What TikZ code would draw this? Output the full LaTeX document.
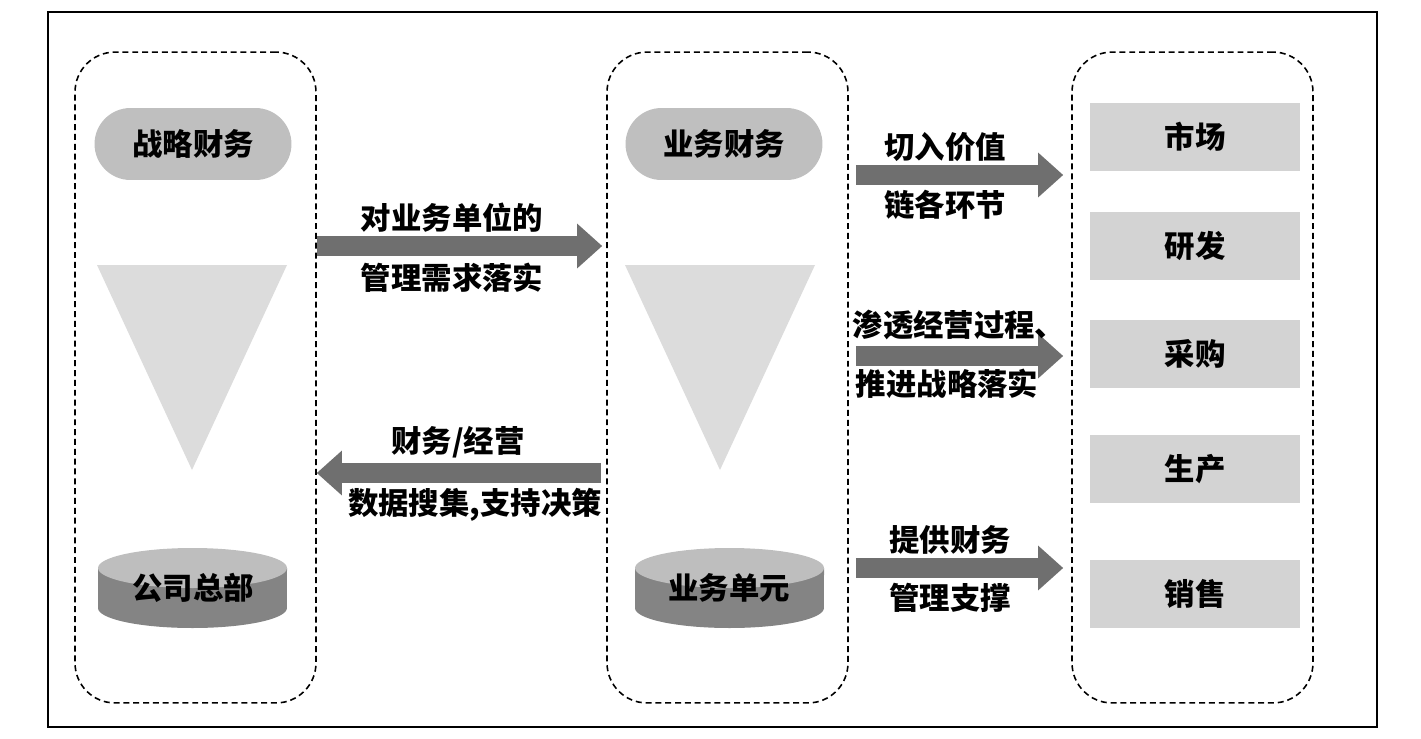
\documentclass[tikz,border=0pt]{standalone}
\usepackage{fontspec}
\newfontfamily\cjk{Noto Sans CJK SC}
\usepackage{tikz}
\usetikzlibrary{arrows.meta, calc}

\definecolor{pillgray}{HTML}{BFBFBF}
\definecolor{trigray}{HTML}{DCDCDC}
\definecolor{cyltop}{HTML}{BEBEBE}
\definecolor{cylside}{HTML}{848484}
\definecolor{arrowgray}{HTML}{6F6F6F}
\definecolor{unitgray}{HTML}{D3D3D3}

\begin{document}
\begin{tikzpicture}[x=0.02cm, y=-0.02cm,
  every node/.style={font=\cjk\bfseries\fontsize{17.3}{19}\selectfont, inner sep=0pt},
  dashbox/.style={draw, line width=0.9pt, dash pattern=on 3.4pt off 2.2pt, rounded corners=0.8cm, minimum width=4.82cm, minimum height=13.02cm},
  pill/.style={fill=pillgray, rounded corners=0.72cm, minimum width=3.94cm, minimum height=1.44cm},
  unitbox/.style={fill=unitgray, minimum width=4.2cm, minimum height=1.36cm},
  bigarrow/.style={draw=arrowgray, line width=0.4cm, -{Triangle[length=0.5cm, width=0.86cm]}},
  lbl/.style={fill=white, inner sep=1pt}]

\useasboundingbox (0,0) rectangle (1421,738);
\draw[line width=1pt] (48,12) rectangle (1377,727);

\node[dashbox] (hqbox) at (195.5,377.5) {};
\node[dashbox] (bubox) at (727.5,377.5) {};
\node[dashbox] (unitsbox) at (1192.5,377.5) {};

\node[pill] (stratfin) at (193,144) {战略财务};
\node[pill] (busfin) at (724,144) {业务财务};

\fill[trigray] (97,265) -- (287,265) -- (192,470) -- cycle;
\fill[trigray] (625,265) -- (815,265) -- (720,470) -- cycle;

\fill[cylside] (98,568) -- (98,608) arc[start angle=180, end angle=360, x radius=1.89cm, y radius=0.4cm] -- (287,568) -- cycle;
\fill[cyltop] (192.5,568) ellipse [x radius=1.89cm, y radius=0.4cm];
\node (hq) at (193,588) {公司总部};

\fill[cylside] (635,568) -- (635,608) arc[start angle=180, end angle=360, x radius=1.89cm, y radius=0.4cm] -- (824,568) -- cycle;
\fill[cyltop] (729.5,568) ellipse [x radius=1.89cm, y radius=0.4cm];
\node (bu) at (729,588) {业务单元};

\node[unitbox] (market) at (1195,137) {市场};
\node[unitbox] (rnd) at (1195,246) {研发};
\node[unitbox] (purchase) at (1195,354) {采购};
\node[unitbox] (produce) at (1195,469) {生产};
\node[unitbox] (sales) at (1195,594) {销售};

\coordinate (reqrow) at (0,246);
\coordinate (backrow) at (0,473);
\coordinate (chainrow) at (0,175);
\coordinate (permrow) at (0,356);
\coordinate (suprow) at (0,568);

\draw[bigarrow] (hqbox.east |- reqrow) -- ($(bubox.west |- reqrow)+(-4,0)$);
\draw[bigarrow] ($(bubox.west |- backrow)+(-5,0)$) -- (hqbox.east |- backrow);
\draw[bigarrow] ($(bubox.east |- chainrow)+(7,0)$) -- ($(unitsbox.west |- chainrow)+(-8,0)$);
\draw[bigarrow] ($(bubox.east |- permrow)+(7,0)$) -- ($(unitsbox.west |- permrow)+(-8,0)$);
\draw[bigarrow] ($(bubox.east |- suprow)+(7,0)$) -- ($(unitsbox.west |- suprow)+(-8,0)$);

\node (req1) at (452,218) {对业务单位的};
\node (req2) at (452,278) {管理需求落实};
\node (back1) at (458,442) {财务/经营};
\node[lbl] (back2) at (475,505) {数据搜集,支持决策};
\node (chain1) at (945,147) {切入价值};
\node (chain2) at (945,205) {链各环节};
\node (perm1) at (959,325) {渗透经营过程、};
\node (perm2) at (947,384) {推进战略落实};
\node (sup1) at (950,540) {提供财务};
\node (sup2) at (950,598) {管理支撑};
\end{tikzpicture}
\end{document}
